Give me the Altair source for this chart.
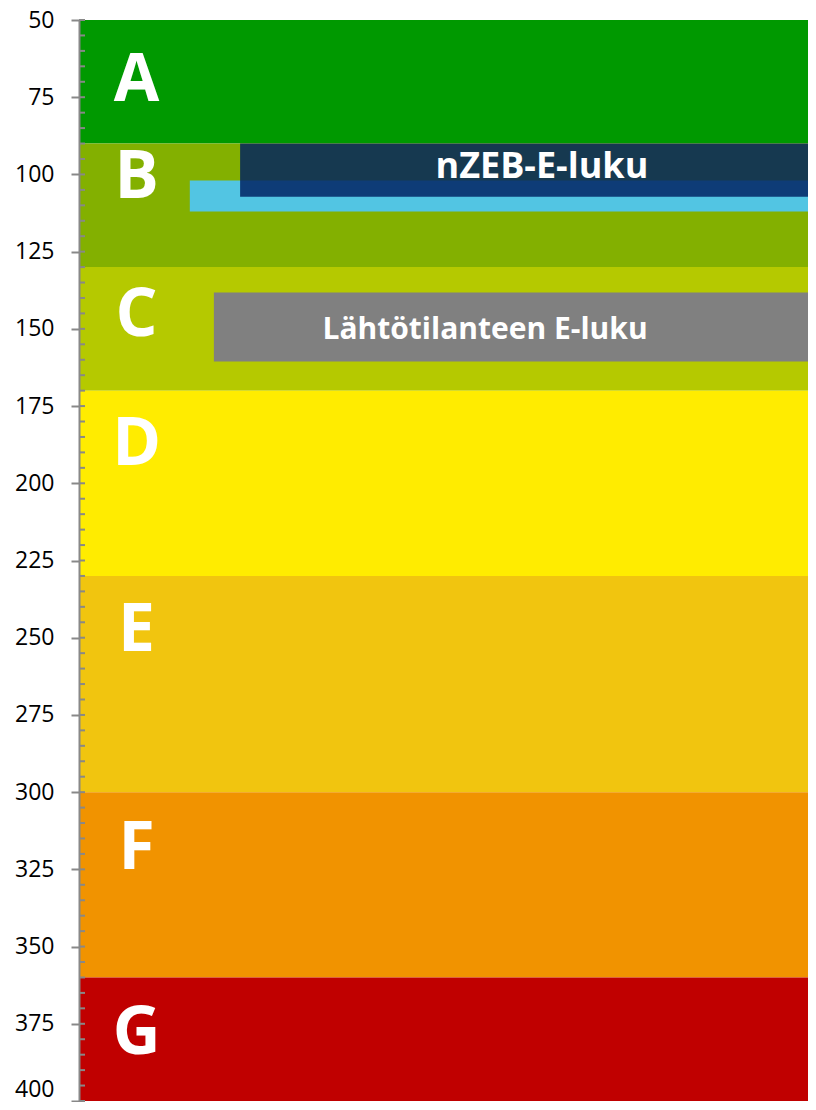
import altair as alt
import pandas as pd

# Energy class bands (E-luku scale)
grades = ["A", "B", "C", "D", "E", "F", "G"]
band_lo = [50, 90, 130, 170, 230, 300, 360]
band_hi = [90, 130, 170, 230, 300, 360, 400]
band_colors = ["#009900", "#83B000", "#B5C900", "#FFEC00", "#F1C50F", "#F19300", "#C00000"]
letter_y = [69.6, 101.2, 145.9, 187.6, 247.9, 318.3, 378.3]

# Overlay bars
bar_names = ["light", "nzeb", "start"]
bar_start = [15.2, 22.1, 18.5]
bar_lo = [102, 90, 138.2]
bar_hi = [112, 107.2, 160.6]
bar_colors = ["#52C5E3", "#002060", "#808080"]
bar_opacity = [1.0, 0.83, 1.0]

label_texts = ["nZEB-E-luku", "Lähtötilanteen E-luku"]
label_x = [63.5, 55.7]
label_y = [97.6, 150.4]
label_size = [36, 30]

major_ticks = list(range(50, 401, 25))
minor_ticks = list(range(50, 401, 5))

bands = pd.DataFrame({"grade": grades, "lo": band_lo, "hi": band_hi,
                      "color": band_colors, "x0": 0, "x1": 100, "ly": letter_y, "lx": 7.9})
bars = pd.DataFrame({"name": bar_names, "x0": bar_start, "x1": 100, "lo": bar_lo,
                     "hi": bar_hi, "color": bar_colors, "op": bar_opacity})
labels = pd.DataFrame({"text": label_texts, "x": label_x, "y": label_y, "size": label_size})
ticks = pd.DataFrame({"v": minor_ticks})

xs = alt.Scale(domain=[0, 100], nice=False, zero=False)
ys = alt.Scale(domain=[50, 400], reverse=True, nice=False, zero=False)


def yaxis():
    return alt.Axis(values=major_ticks, title=None, grid=False, labelFont="Open Sans",
                    labelFontSize=23, labelColor="black", tickColor="#888888", tickWidth=2,
                    tickSize=8, domainColor="#888888", domainWidth=2, labelPadding=17,
                    zindex=1, labelFontWeight="normal",
                    labelBaseline={"condition": {"test": "datum.value >= 400", "value": "bottom"},
                                   "value": "middle"})


band_layer = alt.Chart(bands).mark_rect().encode(
    x=alt.X("x0:Q", scale=xs, axis=None), x2="x1:Q",
    y=alt.Y("lo:Q", scale=ys, axis=yaxis()), y2="hi:Q",
    color=alt.Color("color:N", scale=None),
)

bar_layer = alt.Chart(bars).mark_rect().encode(
    x=alt.X("x0:Q", scale=xs, axis=None), x2="x1:Q",
    y=alt.Y("lo:Q", scale=ys, axis=yaxis()), y2="hi:Q",
    color=alt.Color("color:N", scale=None),
    opacity=alt.Opacity("op:Q", scale=None),
)

letter_layer = alt.Chart(bands).mark_text(
    font="Open Sans", fontWeight="bold", fontSize=66, color="white",
    align="center", baseline="middle"
).encode(
    x=alt.X("lx:Q", scale=xs, axis=None),
    y=alt.Y("ly:Q", scale=ys, axis=yaxis()),
    text="grade:N",
)

label_layer = alt.Chart(labels).mark_text(
    font="Open Sans", fontWeight="bold", color="white",
    align="center", baseline="middle"
).encode(
    x=alt.X("x:Q", scale=xs, axis=None),
    y=alt.Y("y:Q", scale=ys, axis=yaxis()),
    text="text:N",
    size=alt.Size("size:Q", scale=None),
)

tick_layer = alt.Chart(ticks).mark_rule(color="#888888", strokeWidth=2).encode(
    y=alt.Y("v:Q", scale=ys, axis=yaxis()),
    x=alt.value(0), x2=alt.value(6),
)

chart = alt.layer(band_layer, bar_layer, letter_layer, label_layer, tick_layer).properties(
    width=729, height=1081,
    autosize=alt.AutoSizeParams(type="none"),
    padding={"left": 71, "top": 12, "right": 0, "bottom": 1},
).configure_view(stroke=None)

chart.save("out.html", embed_options={"renderer": "svg", "actions": False})
